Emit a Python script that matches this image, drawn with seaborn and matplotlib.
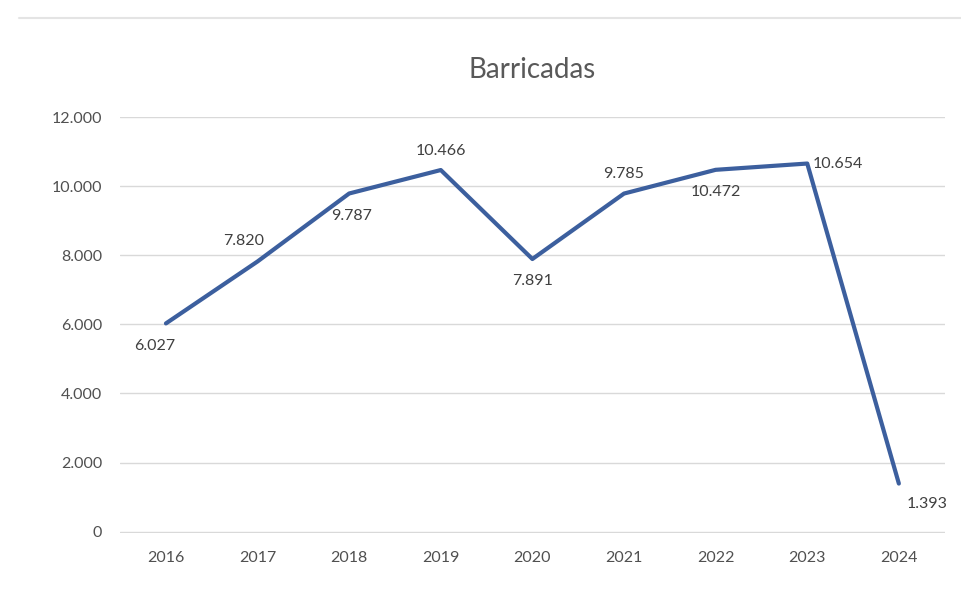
import pandas as pd
import seaborn as sns
import matplotlib.pyplot as plt
from matplotlib.lines import Line2D
from matplotlib.ticker import FuncFormatter

years = ["2016", "2017", "2018", "2019", "2020", "2021", "2022", "2023", "2024"]
barricadas = [6027, 7820, 9787, 10466, 7891, 9785, 10472, 10654, 1393]
# where each data label sits relative to its point (dx, dy in points)
label_offsets = [(-8, -16), (-10, 15), (2, -16), (0, 14), (0, -16), (0, 14), (0, -16), (22, 0), (20, -15)]

df = pd.DataFrame({"year": years, "value": barricadas})

sns.set_theme(style="white")
plt.rcParams['font.family'] = ['Lato', 'DejaVu Sans']

fig = plt.figure(figsize=(9.61, 5.91), dpi=100)
ax = fig.add_axes([0.125, 0.098, 0.858, 0.704])

line_color = "#3c5f9e"
sns.lineplot(data=df, x="year", y="value", ax=ax, color=line_color, linewidth=3, sort=False)

ax.set_ylim(-40, 12000)
ax.set_yticks(range(0, 12001, 2000))
ax.set_xlim(-0.5, len(years) - 0.5)
ax.yaxis.set_major_formatter(FuncFormatter(lambda v, p: f"{int(v):,}".replace(",", ".")))
ax.grid(axis="y", color="#d9d9d9", linewidth=1)
ax.set_axisbelow(True)
for s in ax.spines.values():
    s.set_visible(False)
ax.tick_params(axis="both", colors="#505050", labelsize=11.5, length=0, pad=13)
ax.set_xlabel("")
ax.set_ylabel("")

for i, (v, off) in enumerate(zip(barricadas, label_offsets)):
    ax.annotate(f"{v:,}".replace(",", "."), (i, v), xytext=off, textcoords="offset points",
                ha="center", va="center", fontsize=11.5, color="#404040", annotation_clip=False)

ax.set_title("Barricadas", fontsize=20, color="#595959", pad=28)

# faint rule at the top of the screenshot
fig.add_artist(Line2D([0.02, 1.0], [0.97, 0.97], color="#e4e4e4", linewidth=1.5))

plt.savefig("out.png", dpi=100)
